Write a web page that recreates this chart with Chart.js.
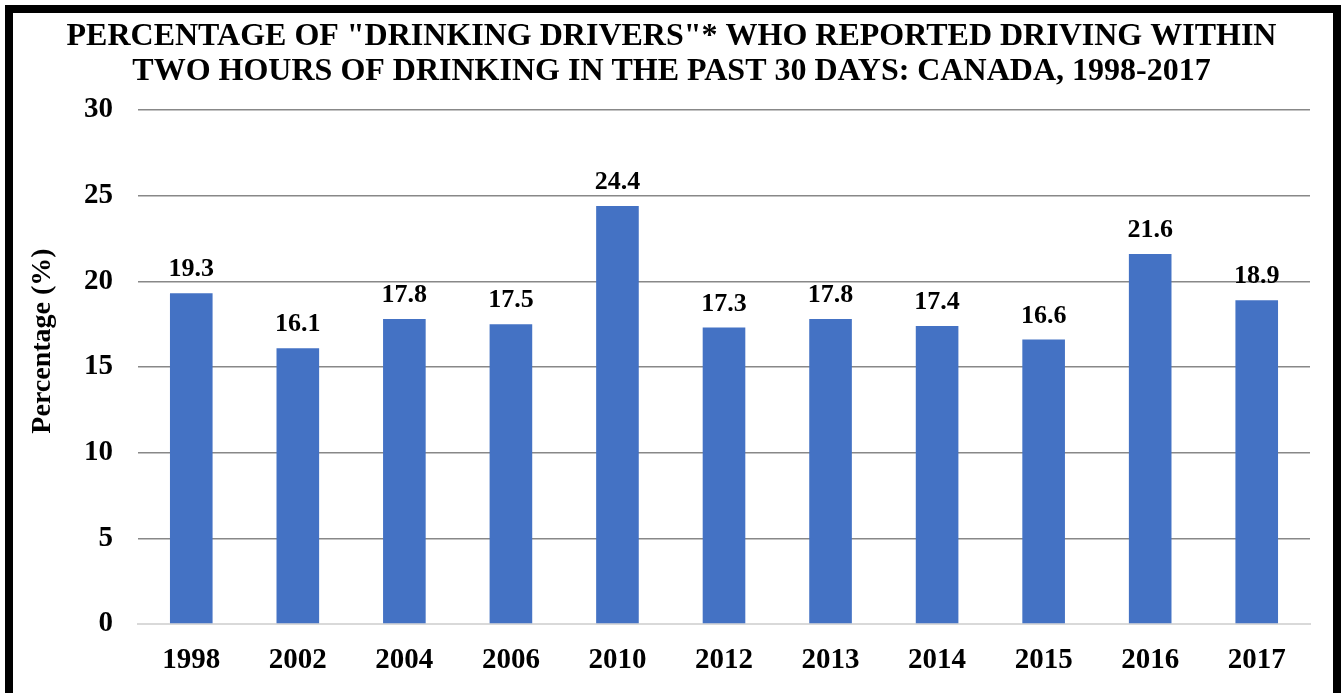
<!DOCTYPE html>
<html>
<head>
<meta charset="utf-8">
<script src="https://cdn.jsdelivr.net/npm/chart.js@4"></script>
<style>
  html, body { margin: 0; padding: 0; background: #fff; overflow: hidden; }
  #wrap { position: absolute; left: 0; top: 0; width: 1341px; height: 693px; }
  #frame {
    position: absolute; left: 5px; top: 5px; width: 1320px; height: 720px;
    border: 8px solid #000; pointer-events: none;
  }
</style>
</head>
<body>
<div id="wrap"><canvas id="myChart" width="1341" height="693"></canvas></div>
<div id="frame"></div>
<script>
var years = ['1998', '2002', '2004', '2006', '2010', '2012', '2013', '2014', '2015', '2016', '2017'];
var pct = [19.3, 16.1, 17.8, 17.5, 24.4, 17.3, 17.8, 17.4, 16.6, 21.6, 18.9];
var titleLines = ['PERCENTAGE OF "DRINKING DRIVERS"* WHO REPORTED DRIVING WITHIN',
                  'TWO HOURS OF DRINKING IN THE PAST 30 DAYS: CANADA, 1998-2017'];
var yTitle = 'Percentage (%)';

var serif = "'Times New Roman', 'Liberation Serif', serif";

// title centred on the whole canvas, value labels above bars, rotated y caption
var textLayer = {
  id: 'textLayer',
  afterDatasetsDraw: function (chart) {
    var ctx = chart.ctx;
    var meta = chart.getDatasetMeta(0);
    var area = chart.chartArea;
    ctx.save();
    ctx.fillStyle = '#000';
    ctx.textAlign = 'center';

    ctx.font = 'bold 32px ' + serif;
    ctx.textBaseline = 'middle';
    titleLines.forEach(function (line, i) {
      ctx.fillText(line, chart.width / 2 + 1, 37 + i * 35);
    });

    ctx.font = 'bold 26px ' + serif;
    ctx.textBaseline = 'alphabetic';
    meta.data.forEach(function (bar, i) {
      ctx.fillText(pct[i].toFixed(1), bar.x, bar.y - 17);
    });

    ctx.translate(43, (area.top + area.bottom) / 2 - 26);
    ctx.rotate(-Math.PI / 2);
    ctx.font = 'bold 28px ' + serif;
    ctx.textBaseline = 'middle';
    ctx.fillText(yTitle, 0, 0);
    ctx.restore();
  }
};

var ctx = document.getElementById('myChart').getContext('2d');
var config = {
  type: 'bar',
  data: {
    labels: years,
    datasets: [{
      data: pct,
      backgroundColor: '#4472C4',
      barPercentage: 0.4,
      categoryPercentage: 1.0
    }]
  },
  options: {
    responsive: false,
    animation: false,
    layout: { padding: { left: 13, right: 31, top: 110, bottom: 0 } },
    plugins: {
      legend: { display: false },
      tooltip: { enabled: false },
      title: { display: false }
    },
    scales: {
      x: {
        grid: { display: false, drawTicks: false },
        border: { display: true, color: '#d9d9d9', width: 2 },
        ticks: { color: '#000', padding: 19, font: { family: serif, size: 29, weight: 'bold' } },
        afterFit: function (s) { s.height = 69; }
      },
      y: {
        min: 0,
        max: 30,
        ticks: { stepSize: 5, color: '#000', padding: 25, font: { family: serif, size: 29, weight: 'bold' } },
        grid: {
          drawTicks: false,
          lineWidth: 1.5,
          color: function (c) { return c.tick && c.tick.value === 0 ? '#d9d9d9' : '#888888'; }
        },
        border: { display: false },
        afterFit: function (s) { s.width = 125; }
      }
    }
  },
  plugins: [textLayer]
};

var chart = new Chart(ctx, config);
</script>
</body>
</html>
